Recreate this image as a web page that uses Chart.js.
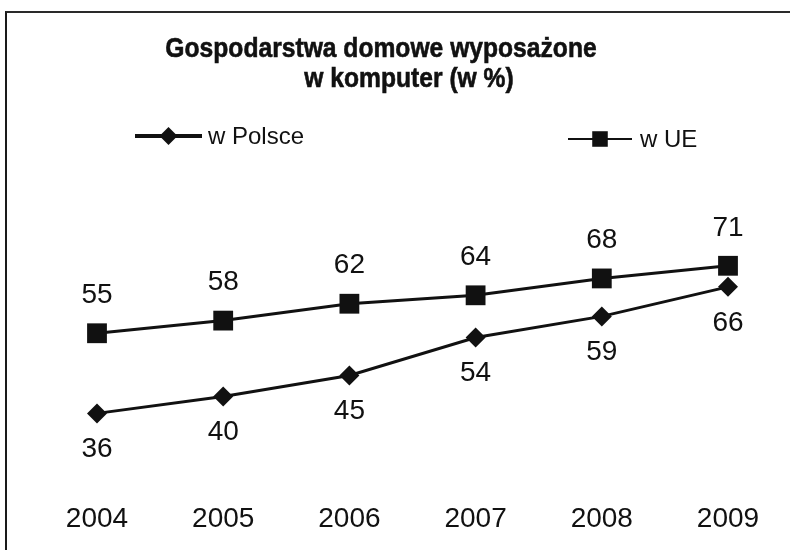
<!DOCTYPE html>
<html lang="pl">
<head>
<meta charset="utf-8">
<title>Gospodarstwa domowe wyposażone w komputer</title>
<script src="https://cdn.jsdelivr.net/npm/chart.js@4/dist/chart.umd.min.js"></script>
<style>
  html, body { margin: 0; padding: 0; background: #fff; }
  #wrap { position: relative; width: 790px; height: 550px; overflow: hidden; }
  #frame {
    position: absolute; left: 5px; top: 11px; width: 800px; height: 600px;
    border-left: 2px solid #1a1a1a; border-top: 2px solid #2a2a2a;
    pointer-events: none;
  }
  canvas { position: absolute; left: 0; top: 0; }
</style>
</head>
<body>
<div id="wrap">
  <canvas id="chart" width="790" height="550"></canvas>
  <div id="frame"></div>
</div>
<script>
// data
const years = ["2004", "2005", "2006", "2007", "2008", "2009"];
const polska = [36, 40, 45, 54, 59, 66];
const ue = [55, 58, 62, 64, 68, 71];
const seriesNames = ["w Polsce", "w UE"];
const titleLines = ["Gospodarstwa domowe wyposażone", "w komputer (w %)"];

const INK = "#111";
const FONT = '"Liberation Sans", Arial, sans-serif';

// title, legend and value labels drawn by hand, the original has an odd layout
const decorPlugin = {
  id: "decor",
  afterDatasetsDraw(chart) {
    const ctx = chart.ctx;
    ctx.save();
    ctx.fillStyle = INK;

    // title, bold and a bit condensed
    ctx.font = "bold 28px " + FONT;
    ctx.textAlign = "center";
    ctx.textBaseline = "alphabetic";
    [[titleLines[0], 381, 57], [titleLines[1], 409, 87]].forEach(([txt, cx, by]) => {
      ctx.save();
      ctx.translate(cx, by);
      ctx.scale(0.88, 1);
      ctx.fillText(txt, 0, 0);
      ctx.strokeStyle = INK;
      ctx.lineWidth = 0.6;
      ctx.strokeText(txt, 0, 0);
      ctx.restore();
    });

    // legend
    const legend = [
      { ds: 0, x1: 135, x2: 202, y: 136, lw: 4, r: 9, tx: 208 },
      { ds: 1, x1: 568, x2: 632, y: 139, lw: 2, r: 11, tx: 640 },
    ];
    ctx.font = "24px " + FONT;
    ctx.textAlign = "left";
    ctx.textBaseline = "middle";
    legend.forEach((it) => {
      const ds = chart.data.datasets[it.ds];
      ctx.strokeStyle = ds.borderColor;
      ctx.lineWidth = it.lw;
      ctx.beginPath();
      ctx.moveTo(it.x1, it.y);
      ctx.lineTo(it.x2, it.y);
      ctx.stroke();
      ctx.fillStyle = ds.pointBackgroundColor;
      Chart.helpers.drawPoint(ctx, {
        pointStyle: ds.pointStyle, radius: it.r, rotation: 0, borderWidth: 0,
      }, (it.x1 + it.x2) / 2, it.y);
      ctx.fillStyle = INK;
      ctx.fillText(ds.label, it.tx, it.y + 1);
    });

    // value labels: UE above the points, Polska below
    ctx.font = "28px " + FONT;
    ctx.textAlign = "center";
    ctx.textBaseline = "middle";
    chart.data.datasets.forEach((ds, i) => {
      const meta = chart.getDatasetMeta(i);
      const off = i === 0 ? 36 : -38;
      meta.data.forEach((pt, j) => {
        ctx.fillText(String(ds.data[j]), pt.x, pt.y + off);
      });
    });
    ctx.restore();
  },
};

new Chart(document.getElementById("chart"), {
  type: "line",
  data: {
    labels: years,
    datasets: [
      {
        label: seriesNames[0],
        data: polska,
        borderColor: INK,
        borderWidth: 3,
        pointStyle: "rectRot",
        pointRadius: 10,
        pointBackgroundColor: INK,
        pointBorderWidth: 0,
        clip: false,
      },
      {
        label: seriesNames[1],
        data: ue,
        borderColor: INK,
        borderWidth: 3,
        pointStyle: "rect",
        pointRadius: 14,
        pointBackgroundColor: INK,
        pointBorderWidth: 0,
        clip: false,
      },
    ],
  },
  options: {
    responsive: false,
    animation: false,
    layout: {
      padding: { top: 200, left: 97, right: 62, bottom: 11 },
    },
    plugins: {
      legend: { display: false },
      title: { display: false },
      tooltip: { enabled: false },
    },
    scales: {
      x: {
        offset: false,
        grid: { display: false, drawTicks: false },
        border: { display: false },
        ticks: {
          color: INK,
          padding: 3,
          font: { family: FONT, size: 28 },
          maxRotation: 0,
        },
      },
      y: {
        display: false,
        min: 15.6,
        max: 86.6,
      },
    },
  },
  plugins: [decorPlugin],
});
</script>
</body>
</html>
